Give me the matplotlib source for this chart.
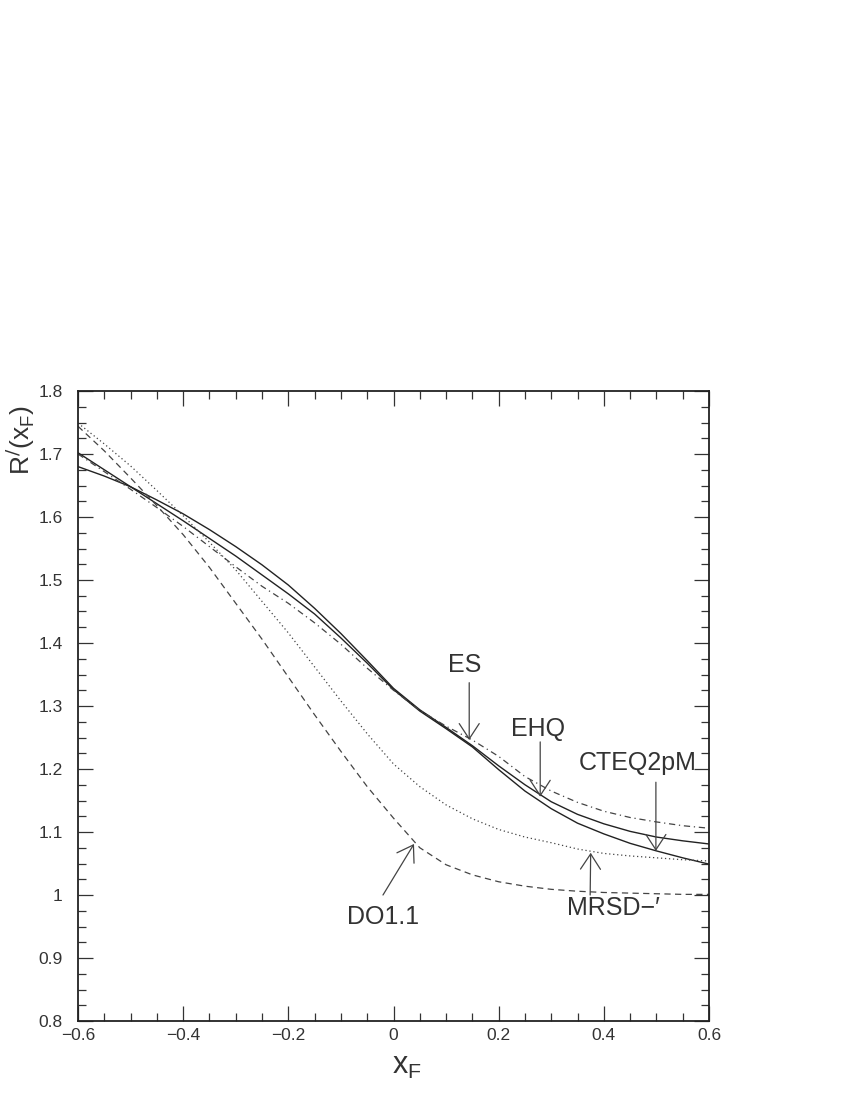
import matplotlib
matplotlib.use('Agg')
import matplotlib.pyplot as plt
from matplotlib.ticker import MultipleLocator

# x_F grid and curves
xf = [-0.60, -0.55, -0.50, -0.45, -0.40, -0.35, -0.30, -0.25, -0.20, -0.15,
      -0.10, -0.05, 0.00, 0.05, 0.10, 0.15, 0.20, 0.25, 0.30, 0.35,
      0.40, 0.45, 0.50, 0.55, 0.60]

ehq = [1.680, 1.665, 1.648, 1.627, 1.605, 1.580, 1.553, 1.524, 1.492, 1.455,
       1.415, 1.372, 1.328, 1.294, 1.266, 1.237, 1.205, 1.175, 1.148, 1.128,
       1.113, 1.101, 1.092, 1.086, 1.081]

cteq2pm = [1.702, 1.675, 1.648, 1.621, 1.594, 1.566, 1.538, 1.508, 1.478, 1.446,
           1.408, 1.368, 1.326, 1.292, 1.264, 1.235, 1.199, 1.165, 1.137, 1.114,
           1.097, 1.082, 1.070, 1.059, 1.049]

es = [1.700, 1.672, 1.644, 1.615, 1.585, 1.553, 1.521, 1.490, 1.463, 1.432,
      1.398, 1.360, 1.325, 1.293, 1.268, 1.246, 1.220, 1.188, 1.165, 1.147,
      1.133, 1.123, 1.116, 1.110, 1.106]

mrsd = [1.749, 1.716, 1.681, 1.642, 1.602, 1.560, 1.516, 1.466, 1.416, 1.362,
        1.308, 1.256, 1.208, 1.172, 1.143, 1.121, 1.104, 1.092, 1.083, 1.073,
        1.066, 1.062, 1.059, 1.056, 1.054]

do11 = [1.744, 1.705, 1.662, 1.618, 1.572, 1.520, 1.463, 1.406, 1.346, 1.286,
        1.228, 1.172, 1.122, 1.075, 1.048, 1.032, 1.021, 1.014, 1.009, 1.006,
        1.004, 1.003, 1.002, 1.001, 1.001]

xticks = [-0.6, -0.4, -0.2, 0.0, 0.2, 0.4, 0.6]
xticklabels = ['\u22120.6', '\u22120.4', '\u22120.2', '0', '0.2', '0.4', '0.6']
yticks = [0.8, 0.9, 1.0, 1.1, 1.2, 1.3, 1.4, 1.5, 1.6, 1.7, 1.8]
yticklabels = ['0.8', '0.9', '1', '1.1', '1.2', '1.3', '1.4', '1.5', '1.6', '1.7', '1.8']

# label text, text position, arrow start, arrow tip
labels = [
    ('ES', (0.136, 1.365), (0.144, 1.337), (0.144, 1.246)),
    ('EHQ', (0.275, 1.263), (0.279, 1.243), (0.279, 1.156)),
    ('CTEQ2pM', (0.465, 1.210), (0.499, 1.179), (0.499, 1.070)),
    ('MRSD\u2212\u2032', (0.419, 0.980), (0.374, 1.000), (0.375, 1.067)),
    ('DO1.1', (-0.020, 0.965), (-0.020, 1.000), (0.039, 1.081)),
]

plt.rcParams['font.family'] = ['Liberation Sans', 'DejaVu Sans']

fig = plt.figure(figsize=(8.5, 11), dpi=100)
ax = fig.add_axes([78 / 850, 1 - 1021 / 1100, 631 / 850, 630 / 1100])

ax.plot(xf, ehq, color='#222222', lw=1.0, ls='-')
ax.plot(xf, cteq2pm, color='#222222', lw=1.0, ls='-')
ax.plot(xf, es, color='#444444', lw=0.9, ls=(0, (5, 3, 1, 3)))
ax.plot(xf, mrsd, color='#444444', lw=0.9, ls=(0, (1, 2.2)))
ax.plot(xf, do11, color='#444444', lw=0.9, ls=(0, (5, 3.5)))

for text, tpos, start, tip in labels:
    ax.text(tpos[0], tpos[1], text, fontsize=18, color='#333333',
            ha='center', va='center')
    ax.annotate('', xy=tip, xytext=start,
                arrowprops=dict(arrowstyle='->,head_length=0.55,head_width=0.36',
                                color='#444444', lw=0.9, shrinkA=0, shrinkB=0,
                                mutation_scale=20))

ax.set_xlim(-0.6, 0.6)
ax.set_ylim(0.8, 1.8)
ax.set_xticks(xticks)
ax.set_xticklabels(xticklabels)
ax.set_yticks(yticks)
ax.set_yticklabels(yticklabels)
ax.xaxis.set_minor_locator(MultipleLocator(0.05))
ax.yaxis.set_minor_locator(MultipleLocator(0.025))
ax.tick_params(which='both', direction='in', top=True, right=True,
               colors='#333333', labelsize=12.5)
ax.tick_params(which='major', length=11, width=0.9)
ax.tick_params(which='minor', length=6, width=0.9)
ax.tick_params(axis='x', pad=5)
ax.tick_params(axis='y', pad=11)
for s in ax.spines.values():
    s.set_linewidth(1.3)
    s.set_color('#222222')

fig.text(20 / 850, 1 - 440 / 1100, r'R$^{/}$(x$_{\mathregular{F}}$)',
         rotation=90, fontsize=19, color='#333333', ha='center', va='center')
fig.text(407 / 850, 1 - 1066 / 1100, r'x$_{\mathregular{F}}$',
         fontsize=22, color='#333333', ha='center', va='center')

fig.savefig('out.png', dpi=100)
